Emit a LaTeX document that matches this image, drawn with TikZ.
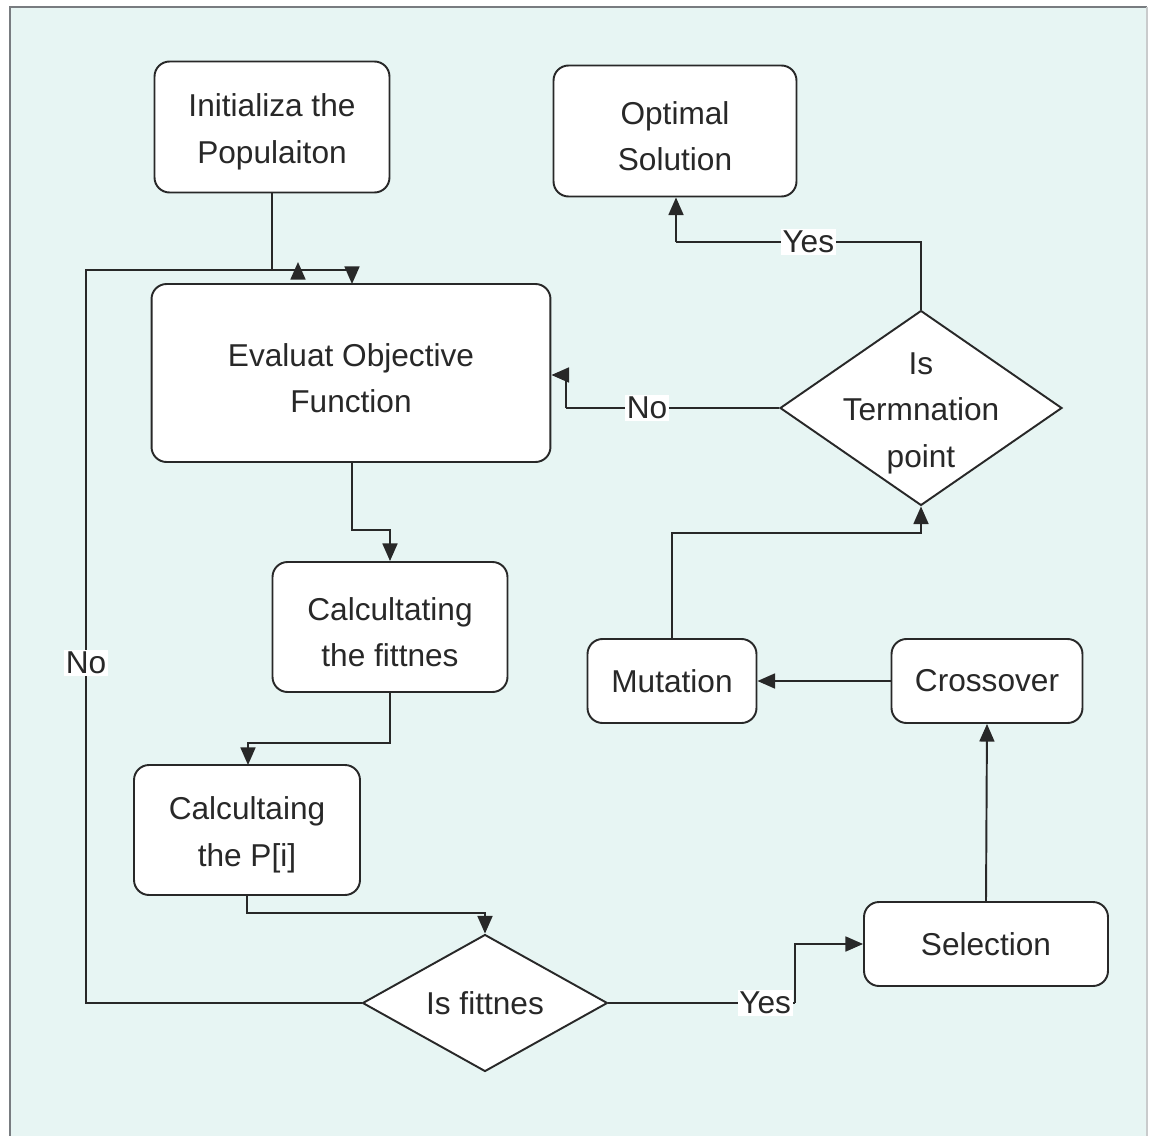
\documentclass[tikz,border=0pt]{standalone}
\usepackage{fontspec}
\setmainfont{Liberation Sans}
\usetikzlibrary{shapes.geometric,arrows.meta}
\definecolor{panel}{RGB}{231,245,243}
\definecolor{ink}{RGB}{40,40,40}
\definecolor{frame}{RGB}{120,124,128}
\begin{document}
\begin{tikzpicture}[x=0.02cm,y=-0.02cm,
  every node/.style={font=\fontsize{18}{26.5}\selectfont, text=ink},
  box/.style={draw=ink, line width=1.1pt, fill=white, rounded corners=0.3cm, align=center, inner sep=0pt},
  decision/.style={draw=ink, line width=1.1pt, fill=white, diamond, inner sep=0pt},
  caption/.style={align=center, inner sep=0pt, yshift=-0.1cm},
  flow/.style={draw=ink, line width=1.1pt, -{Triangle[length=10pt,width=8.5pt]}},
  plain/.style={draw=ink, line width=1.1pt},
  tag/.style={fill=white, inner sep=1pt}]
  % page and panel
  \useasboundingbox (0,0) rectangle (1150,1136);
  \fill[white] (0,0) rectangle (1150,1136);
  \fill[panel] (10,7) rectangle (1147,1136);
  \draw[frame, line width=1.2pt] (10,1136) -- (10,7) -- (1147,7);
  \draw[frame!40, line width=0.8pt] (1147,7) -- (1147,1136);

  % two-line process boxes: frame first, wording on top
  \node[box, minimum width=4.7cm, minimum height=2.62cm] (init) at (272,127) {};
  \node[caption] (initq) at (init) {Initializa the\\Populaiton};
  \node[box, minimum width=7.98cm, minimum height=3.56cm] (eval) at (351,373) {};
  \node[caption] (evalq) at (eval) {Evaluat Objective\\Function};
  \node[box, minimum width=4.86cm, minimum height=2.62cm] (opt) at (675,131) {};
  \node[caption] (optq) at (opt) {Optimal\\Solution};
  \node[box, minimum width=4.7cm, minimum height=2.6cm] (fit) at (390,627) {};
  \node[caption] (fitq) at (fit) {Calcultating\\the fittnes};
  \node[box, minimum width=4.52cm, minimum height=2.6cm] (prob) at (247,830) {};
  \node[caption] (probq) at (prob) {Calcultaing\\the P[i]};

  % one-line process boxes
  \node[box, minimum width=4.88cm, minimum height=1.68cm] (sel) at (986,944) {Selection};
  \node[box, minimum width=3.38cm, minimum height=1.68cm] (mut) at (672,681) {Mutation};
  \node[box, minimum width=3.82cm, minimum height=1.68cm] (cross) at (987,681) {Crossover};

  % decisions: fixed-size diamonds with their questions set on top
  \node[decision, minimum width=5.64cm, minimum height=3.9cm] (term) at (921,408) {};
  \node[caption] (termq) at (term) {Is\\Termnation\\point};
  \node[decision, minimum width=4.9cm, minimum height=2.74cm] (isfit) at (485,1003) {};
  \node[align=center, inner sep=0pt] (isfitq) at (isfit) {Is fittnes};

  % junction points
  \coordinate (j1) at (272,270);
  \coordinate (loopL) at (86,1003);
  \coordinate (loopT) at (86,270);
  \coordinate (loopE) at (298,270);

  % main chain
  \draw[flow] (init.south) -- (j1) -| (352,284);
  \draw[flow] (352,462) -- (352,530) -| (fit.north);
  \draw[flow] (fit.south) -- (390,743) -| (248,765);
  \draw[flow] (prob.south) -- (247,913) -| (isfit.north);

  % failed fitness: back to evaluation
  \draw[plain] (isfit.west) -- (loopL) -- node[tag, pos=0.464] {No} (loopT) -- (loopE);
  \draw[flow] (loopE) -- (298,262);

  % passed fitness: on to selection
  \draw[plain] (isfit.east) -- node[tag, pos=0.84] {Yes} (795,1003);
  \draw[flow] (795,1003) |- (sel.west);

  % genetic operators
  \draw[flow] (sel.north) -- (cross.south);
  \draw[flow] (cross.west) -- (mut.east);
  \draw[flow] (mut.north) |- (921,533) -- (term.south);

  % termination test
  \draw[plain] (term.west) -- node[tag, pos=0.62] {No} (566,408);
  \draw[flow] (566,408) -- (566,375) -- (eval.east |- 0,375);
  \draw[plain] (term.north) -- (921,242) -- node[tag, pos=0.46] {Yes} (676,242);
  \draw[flow] (676,242) -- (opt.south -| 676,0);
\end{tikzpicture}
\end{document}
